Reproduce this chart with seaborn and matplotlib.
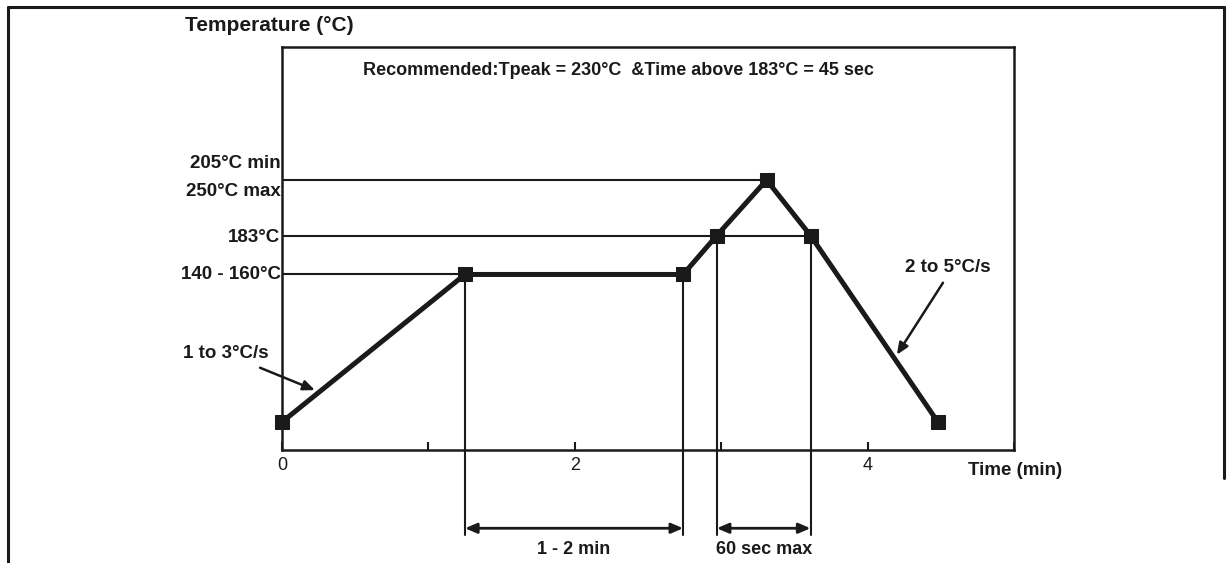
import matplotlib
matplotlib.use("Agg")
import matplotlib.pyplot as plt
from matplotlib.lines import Line2D
import pandas as pd
import seaborn as sns

# reflow profile
time_min = [0.0, 1.25, 2.74, 2.97, 3.31, 3.61, 4.48]
temp_c = [25, 150, 150, 183, 230, 183, 25]

level_temps = [230, 183, 150]
level_ends = [3.31, 3.61, 1.25]          # where each level line meets the profile
drop_times = [1.25, 2.74, 2.97, 3.61]     # vertical guides down past the axis
drop_temps = [150, 150, 183, 183]
span_pairs = [(1.25, 2.74), (2.97, 3.61)]
span_labels = ["1 - 2 min", "60 sec max"]

sns.set_style("white")
plt.rcParams["font.family"] = ["Liberation Sans", "DejaVu Sans"]

fig = plt.figure(figsize=(12.32, 5.63), dpi=100)
ax = fig.add_axes([282 / 1232, 113 / 563, 732 / 1232, 403 / 563])

df = pd.DataFrame({"time": time_min, "temp": temp_c})
sns.lineplot(data=df, x="time", y="temp", estimator=None, marker="s",
             markersize=10, color="#1a1a1a", linewidth=3.6, ax=ax,
             markeredgecolor="#1a1a1a", zorder=5, clip_on=False)

ink = "#1a1a1a"
for t, xe in zip(level_temps, level_ends):
    ax.plot([0, xe], [t, t], color=ink, lw=1.5, zorder=3)
for xd, td in zip(drop_times, drop_temps):
    ax.plot([xd, xd], [td, -71], color=ink, lw=1.5, clip_on=False, zorder=3)
for (a, b), lab in zip(span_pairs, span_labels):
    ax.annotate("", xy=(b, -65), xytext=(a, -65), annotation_clip=False,
                arrowprops=dict(arrowstyle="<|-|>,head_length=0.7,head_width=0.3",
                                color=ink, lw=2, shrinkA=0, shrinkB=0))
    ax.text((a + b) / 2, -83, lab, ha="center", va="center", fontsize=13,
            fontweight="bold", color=ink, clip_on=False)

ax.set_xlim(0, 5)
ax.set_ylim(1.3, 342.7)
ax.set_xticks([0, 1, 2, 3, 4, 5])
ax.set_xticklabels(["0", "", "2", "", "4", ""])
ax.set_yticks([])
ax.tick_params(axis="x", direction="in", length=6, width=1.5, pad=5,
               labelsize=13, colors=ink, bottom=True)
ax.set_xlabel("")
ax.set_ylabel("")
for s in ax.spines.values():
    s.set_color(ink)
    s.set_linewidth(1.8)

bold = dict(fontsize=13.5, fontweight="bold", color=ink)
ax.text(-0.01, 244, "205°C min", ha="right", va="center", **bold)
ax.text(-0.01, 220, "250°C max", ha="right", va="center", **bold)
ax.text(-0.01, 181, "183°C", ha="right", va="center", **bold)
ax.text(-0.01, 150, "140 - 160°C", ha="right", va="center", **bold)
ax.text(-0.663, 361, "Temperature (°C)", ha="left", va="center", fontsize=15,
        fontweight="bold", color=ink, clip_on=False)
ax.text(2.30, 323, "Recommended:Tpeak = 230°C  &Time above 183°C = 45 sec",
        ha="center", va="center", fontsize=13, fontweight="bold", color=ink)
ax.text(5.01, -16, "Time (min)", ha="center", va="center", **bold)

ax.text(-0.676, 83, "1 to 3°C/s", ha="left", va="center", **bold)
ax.annotate("", xy=(0.225, 52), xytext=(-0.15, 71), annotation_clip=False,
            arrowprops=dict(arrowstyle="-|>,head_length=0.7,head_width=0.3",
                            color=ink, lw=1.8, shrinkA=0, shrinkB=0))
ax.text(4.55, 156, "2 to 5°C/s", ha="center", va="center", **bold)
ax.annotate("", xy=(4.2, 82), xytext=(4.515, 143),
            arrowprops=dict(arrowstyle="-|>,head_length=0.7,head_width=0.3",
                            color=ink, lw=1.8, shrinkA=0, shrinkB=0))

# outer page frame
W, H = 1232, 563
for xs, ys in [([8, 1224], [7, 7]), ([8, 8], [7, 563]), ([1224, 1224], [7, 478])]:
    fig.add_artist(Line2D([x / W for x in xs], [1 - y / H for y in ys],
                          color=ink, lw=2.2, transform=fig.transFigure))

fig.savefig("out.png", dpi=100)
